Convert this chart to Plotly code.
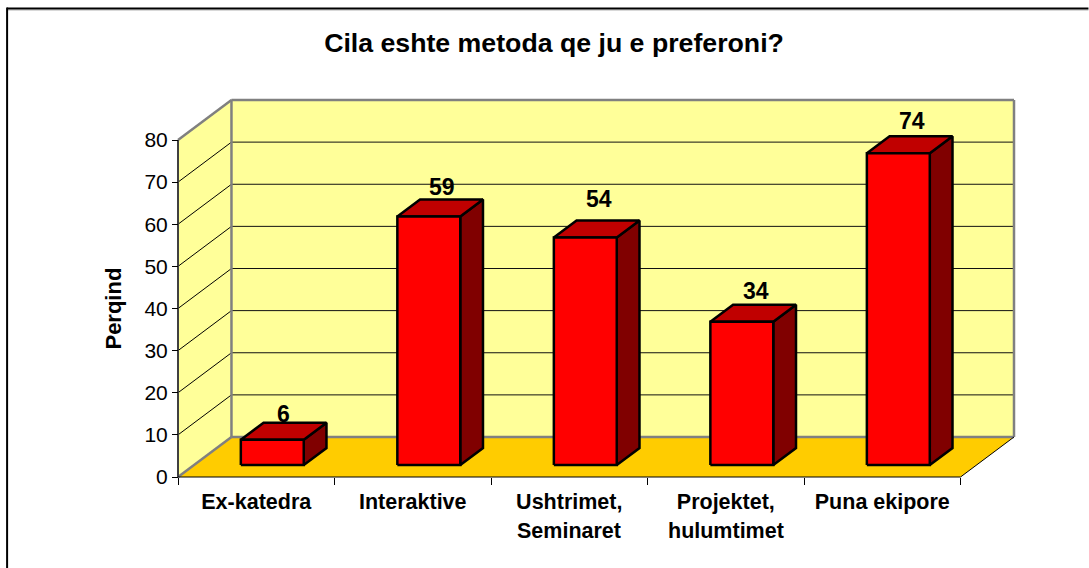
import plotly.graph_objects as go

# --- data ---
categories_line1 = ["Ex-katedra", "Interaktive", "Ushtrimet,", "Projektet,", "Puna ekipore"]
categories_line2 = ["", "", "Seminaret", "hulumtimet", ""]
values = [6, 59, 54, 34, 74]
y_ticks = [0, 10, 20, 30, 40, 50, 60, 70, 80]
title = "Cila eshte metoda qe ju e preferoni?"
y_title = "Perqind"

# --- oblique projection, in axis units ---
PAD = 3                                 # px kept round the 3D box so its borders are not clipped
L, R, T, B = 178 - PAD, 74.5 - PAD, 99.5 - PAD, 91 - PAD   # plot margins in px
W, H = 1089, 568
PX_CAT = 156.6                          # px per category
PX_UNIT = 4.2125                        # px per value unit
DEPTH_X = 53.5 / PX_CAT
DEPTH_Y = 40 / PX_UNIT
N = len(values)
X_MAX = N + DEPTH_X
Y_MAX = 80 + DEPTH_Y
BAR_W = 0.402
D_FRONT, D_BACK = 0.3, 0.725
label_dx = [-0.5, 2, 2, 3, 2]           # label nudges, px
label_dy = [9, 12, 22, 14, 15]

GRAY, YELLOW, FLOOR = "#808080", "#FFFF99", "#FFCC00"
FONT = "Liberation Sans"


def poly(xs, ys, fill, line="rgba(0,0,0,0)", width=0):
    return go.Scatter(x=xs, y=ys, mode="lines", fill="toself", fillcolor=fill,
                      line=dict(color=line, width=width), hoverinfo="skip",
                      showlegend=False)


def seg(xs, ys, color, width):
    return go.Scatter(x=xs, y=ys, mode="lines", line=dict(color=color, width=width),
                      hoverinfo="skip", showlegend=False)


fig = go.Figure()

# walls and floor
fig.add_trace(poly([DEPTH_X, X_MAX, X_MAX, DEPTH_X, DEPTH_X],
                   [DEPTH_Y, DEPTH_Y, Y_MAX, Y_MAX, DEPTH_Y], YELLOW))
fig.add_trace(poly([0, DEPTH_X, DEPTH_X, 0, 0], [0, DEPTH_Y, Y_MAX, 80, 0], YELLOW))
fig.add_trace(poly([0, N, X_MAX, DEPTH_X, 0], [0, 0, DEPTH_Y, DEPTH_Y, 0], FLOOR))

# gridlines
for v in y_ticks[1:]:
    fig.add_trace(seg([DEPTH_X, X_MAX], [v + DEPTH_Y, v + DEPTH_Y], "#111111", 1))
    if v < 80:
        fig.add_trace(seg([0, DEPTH_X], [v, v + DEPTH_Y], "#000000", 1))

# wall borders
fig.add_trace(seg([0, DEPTH_X], [80, Y_MAX], GRAY, 2.5))
fig.add_trace(seg([DEPTH_X, X_MAX], [Y_MAX, Y_MAX], GRAY, 2.5))
fig.add_trace(seg([X_MAX, X_MAX], [Y_MAX, DEPTH_Y], GRAY, 2.5))
fig.add_trace(seg([X_MAX, DEPTH_X], [DEPTH_Y, DEPTH_Y], GRAY, 2.5))
fig.add_trace(seg([DEPTH_X, DEPTH_X], [DEPTH_Y, Y_MAX], GRAY, 2.5))
fig.add_trace(seg([0, DEPTH_X], [0, DEPTH_Y], GRAY, 2.5))
fig.add_trace(seg([0, 0], [0, 80], "#404040", 2))
fig.add_trace(seg([0, N], [0, 0], "#000000", 1))
fig.add_trace(seg([N, X_MAX], [0, DEPTH_Y], "#000000", 1))

# bars
annotations = []
for i, v in enumerate(values):
    x0 = i + 0.5 - BAR_W / 2 + D_FRONT * DEPTH_X
    x1 = x0 + BAR_W
    dx = (D_BACK - D_FRONT) * DEPTH_X
    dy = (D_BACK - D_FRONT) * DEPTH_Y
    b = D_FRONT * DEPTH_Y
    t = b + v
    fig.add_trace(poly([x1, x1 + dx, x1 + dx, x1, x1], [b, b + dy, t + dy, t, b], "#800000", "#000000", 2.5))
    fig.add_trace(poly([x0, x1, x1 + dx, x0 + dx, x0], [t, t, t + dy, t + dy, t], "#C00000", "#000000", 2.5))
    fig.add_trace(poly([x0, x1, x1, x0, x0], [b, b, t, t, b], "#FF0000", "#000000", 2.5))
    annotations.append(dict(x=(x0 + x1 + dx) / 2, y=t + dy, text=f"<b>{v}</b>", showarrow=False,
                            xref="x", yref="y", xanchor="center", yanchor="middle",
                            xshift=label_dx[i], yshift=label_dy[i],
                            font=dict(family=FONT, size=23, color="black")))


def px(xp):
    return (xp - L) / (W - L - R)


def py(yp):
    return 1 - (yp - T) / (H - T - B)


# second lines of the two-line category labels
for i, s in enumerate(categories_line2):
    if s:
        annotations.append(dict(x=i + 0.5, y=py(531), text=f"<b>{s}</b>",
                                showarrow=False, xref="x", yref="paper", yanchor="middle",
                                font=dict(family=FONT, size=21.5, color="black")))

annotations.append(dict(x=px(113), y=40, text=f"<b>{y_title}</b>", textangle=-90,
                        showarrow=False, xref="paper", yref="y", xanchor="center", yanchor="middle",
                        font=dict(family=FONT, size=22, color="black")))

frame = [
    dict(type="line", xref="paper", yref="paper", x0=px(7), x1=px(W), y0=py(9.5), y1=py(9.5),
         line=dict(color="#C0C0C0", width=1)),
    dict(type="line", xref="paper", yref="paper", x0=px(7), x1=px(W), y0=py(8), y1=py(8),
         line=dict(color="#000000", width=2)),
    dict(type="line", xref="paper", yref="paper", x0=px(7), x1=px(7), y0=py(7), y1=py(H),
         line=dict(color="#000000", width=2)),
]

fig.update_layout(
    width=W, height=H, autosize=False,
    margin=dict(l=L, r=R, t=T, b=B, pad=0),
    paper_bgcolor="white", plot_bgcolor="white",
    showlegend=False, hovermode=False,
    title=dict(text=f"<b>{title}</b>", x=554 / W, xanchor="center", y=1 - 43 / H, yanchor="middle",
               font=dict(family=FONT, size=26.7, color="black")),
    font=dict(family=FONT, color="black"),
    annotations=annotations, shapes=frame,
    xaxis=dict(range=[-PAD / PX_CAT, X_MAX + PAD / PX_CAT], showgrid=False, zeroline=False, showline=False,
               anchor="free", position=py(477),
               tickmode="array", tickvals=[i + 0.5 for i in range(N)],
               ticktext=[f"<b>{c}</b>" for c in categories_line1],
               ticks="", ticklen=0, tickangle=0, ticklabelstandoff=9,
               tickfont=dict(family=FONT, size=21.5, color="black"),
               minor=dict(tickmode="array", tickvals=list(range(N + 1)), ticks="outside",
                          ticklen=7, tickwidth=1, tickcolor="black", showgrid=False),
               automargin=False, fixedrange=True),
    yaxis=dict(range=[-PAD / PX_UNIT, Y_MAX + PAD / PX_UNIT], showgrid=False, zeroline=False, showline=False,
               anchor="free", position=px(178),
               tickmode="array", tickvals=y_ticks, ticks="outside", ticklen=6, tickwidth=1,
               tickcolor="black", tickfont=dict(family=FONT, size=21, color="black"),
               automargin=False, fixedrange=True),
)

fig.write_html("out.html", config={"displayModeBar": False},
               post_script="document.body.style.margin='0';document.documentElement.style.overflow='hidden';")
